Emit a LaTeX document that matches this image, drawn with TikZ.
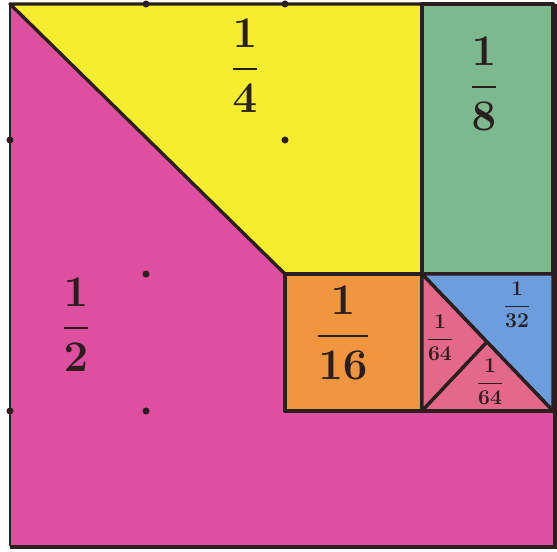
\documentclass[tikz,border=0pt]{standalone}
\usepackage{tikz}
\usepackage{amsmath}
\definecolor{halfpink}{HTML}{DE4FA0}
\definecolor{quarteryellow}{HTML}{F4EE2C}
\definecolor{eighthgreen}{HTML}{7DB98E}
\definecolor{sixteenthorange}{HTML}{F0963E}
\definecolor{thirtysecondblue}{HTML}{6C9DDC}
\definecolor{sixtyfourthrose}{HTML}{E3688A}
\definecolor{inkdark}{HTML}{2A1E1E}

\begin{document}
\begin{tikzpicture}[x=0.02cm, y=-0.02cm,
    piece/.style={draw=inkdark, line width=1.9pt, line join=round},
    frac/.style={font=\Huge\boldmath, text=inkdark, inner sep=0pt},
    smallfrac/.style={font=\large\boldmath, text=inkdark, inner sep=0pt},
    gridmark/.style={circle, fill=inkdark, inner sep=0pt, minimum size=4pt},
  ]
  \useasboundingbox (0,0) rectangle (557,551);
  \fill[white] (0,0) rectangle (557,551);

  % the whole square, what is left of it is the half
  \fill[halfpink] (10,4) rectangle (553,546);
  \draw[inkdark, line width=0.6pt] (10,4) -- (10,546);

  % pieces
  \filldraw[piece, fill=quarteryellow] (10,4) -- (422,4) -- (422,274) -- (285,274) -- cycle;
  \filldraw[piece, fill=eighthgreen] (422,4) rectangle (553,274);
  \filldraw[piece, fill=sixteenthorange] (285,274) rectangle (422,411);
  \filldraw[piece, fill=thirtysecondblue] (422,274) -- (553,274) -- (553,411) -- cycle;
  \filldraw[piece, fill=sixtyfourthrose] (422,274) -- (487,342) -- (422,411) -- cycle;
  \filldraw[piece, fill=sixtyfourthrose] (422,411) -- (487,342) -- (553,411) -- cycle;
  \draw[piece] (285,411) -- (553,411);

  % outer border
  \draw[inkdark, line width=2.4pt] (10,547) -- (555,547) -- (555,4);

  % grid dots
  \foreach \gx/\gy in {146/4, 285/4, 10/140, 285/140, 146/274, 10/411, 146/411}
    \node[gridmark] at (\gx,\gy) {};

  % labels
  \node[frac] (lblquarter) at (245,66) {$\dfrac{1}{4}$};
  \node[frac] (lbleighth) at (484,84) {$\dfrac{1}{8}$};
  \node[frac] (lblhalf) at (76,325) {$\dfrac{1}{2}$};
  \node[frac] (lblsixteenth) at (343,333) {$\dfrac{1}{16}$};
  \node[smallfrac] (lblthirtysecond) at (517,305) {$\dfrac{1}{32}$};
  \node[smallfrac] (lblsixtyfourtha) at (440,338) {$\dfrac{1}{64}$};
  \node[smallfrac] (lblsixtyfourthb) at (490,382) {$\dfrac{1}{64}$};
\end{tikzpicture}
\end{document}
